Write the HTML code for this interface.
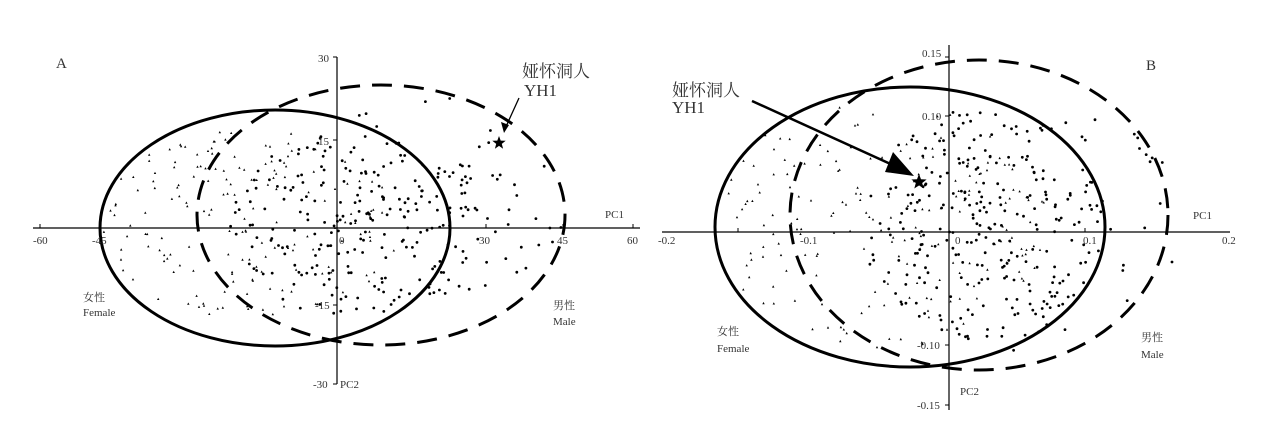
<!DOCTYPE html>
<html><head><meta charset="utf-8"><style>
html,body{margin:0;padding:0;background:#fff;}
svg{display:block;}
text{font-family:"Liberation Serif","Noto Serif CJK SC",serif;fill:#333;}
</style></head><body>
<svg id="s" width="1268" height="422" viewBox="0 0 1268 422" xmlns="http://www.w3.org/2000/svg">
<g id="dots"></g>
<!-- Panel A -->
<g stroke="#000" fill="none">
<line x1="33" y1="228" x2="640" y2="228" stroke-width="1.2"/>
<line x1="337" y1="57" x2="337" y2="384" stroke-width="1.2"/>
<g stroke-width="1"><line x1="40" y1="228" x2="40" y2="224"/><line x1="100" y1="228" x2="100" y2="224"/><line x1="486" y1="228" x2="486" y2="224"/><line x1="563" y1="228" x2="563" y2="224"/><line x1="633" y1="228" x2="633" y2="224"/>
<line x1="333" y1="57" x2="337" y2="57"/><line x1="333" y1="140" x2="337" y2="140"/><line x1="333" y1="305" x2="337" y2="305"/><line x1="333" y1="384" x2="337" y2="384"/></g>
<ellipse cx="275" cy="228" rx="175" ry="118" stroke-width="3"/>
<ellipse cx="381" cy="215" rx="184" ry="130" stroke-width="3" stroke-dasharray="20,12"/>
<line x1="519" y1="98" x2="504" y2="131" stroke-width="1.3"/>
</g>
<polygon points="504,133 501,122 509,125" fill="#000"/>
<text x="56" y="68" font-size="15">A</text>
<text x="522" y="77" font-size="17" style="font-family:'Noto Serif CJK SC',serif">娅怀洞人</text>
<text x="524" y="96" font-size="17">YH1</text>
<g font-size="11">
<text x="33" y="244">-60</text><text x="92" y="244">-45</text><text x="339" y="244">0</text><text x="479" y="244">30</text><text x="557" y="244">45</text><text x="627" y="244">60</text>
<text x="318" y="62">30</text><text x="318" y="145">15</text><text x="315" y="309">-15</text><text x="313" y="388">-30</text>
<text x="340" y="388">PC2</text><text x="605" y="218">PC1</text>
<text x="83" y="301" style="font-family:'Noto Serif CJK SC',serif">女性</text><text x="83" y="316">Female</text>
<text x="553" y="309" style="font-family:'Noto Serif CJK SC',serif">男性</text><text x="553" y="325">Male</text>
</g>
<!-- Panel B -->
<g stroke="#000" fill="none">
<line x1="662" y1="232" x2="1230" y2="232" stroke-width="1.2"/>
<line x1="949" y1="45" x2="949" y2="410" stroke-width="1.2"/>
<g stroke-width="1"><line x1="738" y1="232" x2="738" y2="228"/><line x1="1085" y1="232" x2="1085" y2="228"/>
<line x1="945" y1="57" x2="949" y2="57"/><line x1="945" y1="116" x2="949" y2="116"/><line x1="945" y1="345" x2="949" y2="345"/><line x1="945" y1="405" x2="949" y2="405"/></g>
<ellipse cx="910" cy="227" rx="195" ry="140" stroke-width="3"/>
<ellipse cx="979" cy="215" rx="189" ry="155" stroke-width="3" stroke-dasharray="20,12"/>
<line x1="752" y1="101" x2="895" y2="166" stroke-width="2.5"/>
</g>
<polygon points="914,176 885,172 893,152" fill="#000"/>
<text x="1146" y="70" font-size="15">B</text>
<text x="672" y="96" font-size="17" style="font-family:'Noto Serif CJK SC',serif">娅怀洞人</text>
<text x="672" y="113" font-size="17">YH1</text>
<g font-size="11">
<text x="658" y="244">-0.2</text><text x="800" y="244">-0.1</text><text x="955" y="244">0</text><text x="1083" y="244">0.1</text><text x="1222" y="244">0.2</text>
<text x="922" y="57">0.15</text><text x="922" y="120">0.10</text><text x="917" y="349">-0.10</text><text x="917" y="409">-0.15</text>
<text x="960" y="395">PC2</text><text x="1193" y="219">PC1</text>
<text x="717" y="335" style="font-family:'Noto Serif CJK SC',serif">女性</text><text x="717" y="352">Female</text>
<text x="1141" y="341" style="font-family:'Noto Serif CJK SC',serif">男性</text><text x="1141" y="358">Male</text>
</g>
<g id="stars"></g>
</svg>
<script>
(function(){
var seed=12345;function r(){seed=(seed*1103515245+12345)%2147483648;return seed/2147483648;}
var g=document.getElementById("dots"),out="";
function pts(cx,cy,rx,ry,n,tri){for(var i=0;i<n;i++){var a=r()*6.283,d=Math.sqrt(r())*1.0;var x=cx+Math.cos(a)*rx*d,y=cy+Math.sin(a)*ry*d;
if(tri){out+='<polygon points="'+x.toFixed(1)+','+(y-1.4).toFixed(1)+' '+(x-1.2).toFixed(1)+','+(y+0.9).toFixed(1)+' '+(x+1.2).toFixed(1)+','+(y+0.9).toFixed(1)+'" fill="#000"/>';}
else out+='<circle cx="'+x.toFixed(1)+'" cy="'+y.toFixed(1)+'" r="1.4" fill="#000"/>';}}
pts(250,225,150,95,170,true);pts(360,225,130,95,200,false);pts(430,205,140,110,70,false);
pts(880,225,170,125,190,true);pts(985,225,125,115,240,false);pts(1030,220,150,140,60,false);
g.innerHTML=out;
function star(cx,cy,R){var p=[];for(var i=0;i<10;i++){var a=-Math.PI/2+i*Math.PI/5,rr=i%2?R*0.42:R;p.push((cx+Math.cos(a)*rr).toFixed(1)+","+(cy+Math.sin(a)*rr).toFixed(1));}return '<polygon points="'+p.join(" ")+'" fill="#000"/>';}
document.getElementById("stars").innerHTML=star(499,143,7)+star(919,182,8);
})();
</script>
</body></html>
